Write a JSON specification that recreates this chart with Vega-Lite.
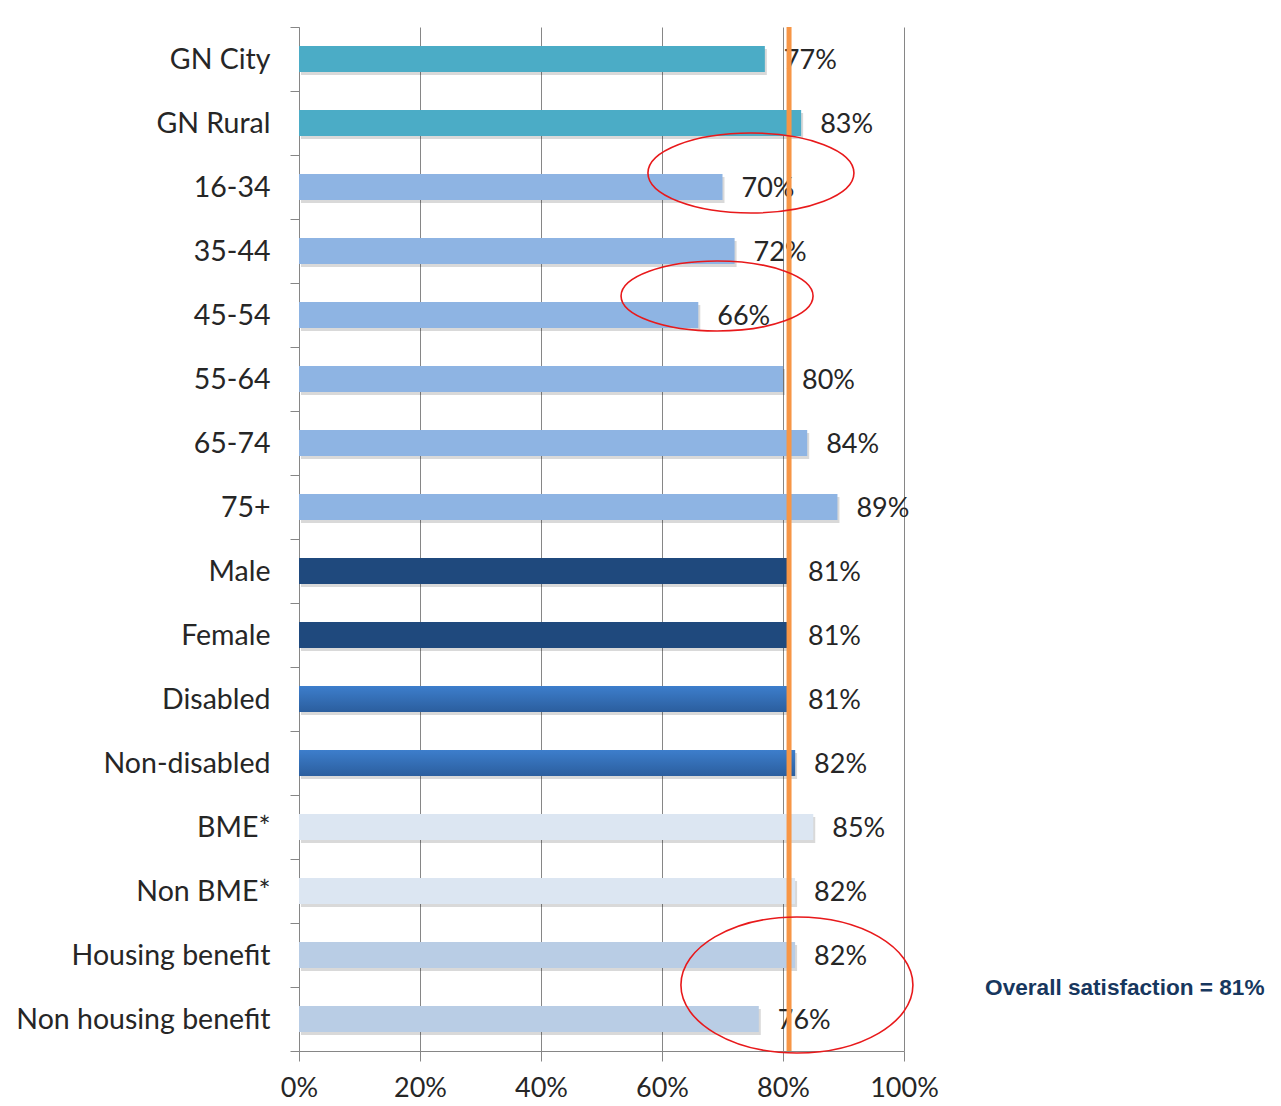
{
  "$schema": "https://vega.github.io/schema/vega-lite/v6.json",
  "width": 605,
  "height": 1024,
  "autosize": "none",
  "padding": {"left": 299, "top": 27, "right": 377, "bottom": 55},
  "background": "white",
  "config": {"view": {"stroke": null}, "font": "Lato"},
  "datasets": {
    "bars": [
      {"category": "GN City", "value": 0.77, "group": "area"},
      {"category": "GN Rural", "value": 0.83, "group": "area"},
      {"category": "16-34", "value": 0.70, "group": "age"},
      {"category": "35-44", "value": 0.72, "group": "age"},
      {"category": "45-54", "value": 0.66, "group": "age"},
      {"category": "55-64", "value": 0.80, "group": "age"},
      {"category": "65-74", "value": 0.84, "group": "age"},
      {"category": "75+", "value": 0.89, "group": "age"},
      {"category": "Male", "value": 0.81, "group": "gender"},
      {"category": "Female", "value": 0.81, "group": "gender"},
      {"category": "Disabled", "value": 0.81, "group": "disability"},
      {"category": "Non-disabled", "value": 0.82, "group": "disability"},
      {"category": "BME*", "value": 0.85, "group": "ethnicity"},
      {"category": "Non BME*", "value": 0.82, "group": "ethnicity"},
      {"category": "Housing benefit", "value": 0.82, "group": "benefit"},
      {"category": "Non housing benefit", "value": 0.76, "group": "benefit"}
    ]
  },
  "encoding": {
    "y": {
      "field": "category",
      "type": "nominal",
      "scale": {
        "domain": ["GN City", "GN Rural", "16-34", "35-44", "45-54", "55-64", "65-74", "75+", "Male", "Female", "Disabled", "Non-disabled", "BME*", "Non BME*", "Housing benefit", "Non housing benefit"],
        "paddingInner": 0,
        "paddingOuter": 0
      },
      "axis": {
        "title": null,
        "labelFontSize": 28.5,
        "labelColor": "#262626",
        "labelPadding": 20,
        "labelLimit": 0,
        "tickSize": 9,
        "tickBand": "extent",
        "tickColor": "#868686",
        "domainColor": "#868686",
        "grid": false
      }
    }
  },
  "layer": [
    {
      "data": {"name": "bars"},
      "mark": {"type": "bar", "color": "#000000", "opacity": 0.15, "yOffset": 3, "xOffset": 2, "size": 26},
      "encoding": {
        "x": {
          "field": "value",
          "type": "quantitative",
          "scale": {"domain": [0, 1], "nice": false},
          "axis": {
            "title": null,
            "values": [0, 0.2, 0.4, 0.6, 0.8, 1],
            "format": ".0%",
            "grid": true,
            "gridColor": "#868686",
            "tickSize": 10,
            "tickColor": "#868686",
            "domainColor": "#868686",
            "labelPadding": 14,
            "labelFlush": false,
            "labelFontSize": 27,
            "labelColor": "#262626"
          }
        }
      }
    },
    {
      "data": {"name": "bars"},
      "mark": {"type": "bar", "size": 26},
      "encoding": {
        "x": {"field": "value", "type": "quantitative"},
        "color": {
          "field": "group",
          "type": "nominal",
          "scale": {
            "domain": ["area", "age", "gender", "disability", "ethnicity", "benefit"],
            "range": ["#4BACC6", "#8EB4E3", "#1F497D", "#3470B8", "#DCE6F2", "#B9CDE5"]
          },
          "legend": null
        }
      }
    },
    {
      "data": {"name": "bars"},
      "transform": [{"filter": "datum.group === 'disability'"}],
      "mark": {
        "type": "bar",
        "size": 26,
        "color": {
          "gradient": "linear",
          "x1": 0, "y1": 0, "x2": 0, "y2": 1,
          "stops": [
            {"offset": 0, "color": "#3D7ECC"},
            {"offset": 1, "color": "#2B5E9E"}
          ]
        }
      },
      "encoding": {
        "x": {"field": "value", "type": "quantitative"}
      }
    },
    {
      "data": {"name": "bars"},
      "mark": {"type": "text", "align": "left", "baseline": "middle", "dx": 19, "dy": 2, "fontSize": 27, "color": "#262626"},
      "encoding": {
        "x": {"field": "value", "type": "quantitative"},
        "text": {"field": "value", "type": "quantitative", "format": ".0%"}
      }
    },
    {
      "data": {"values": [{"overall": 0.81}]},
      "mark": {"type": "rule", "color": "#F79646", "strokeWidth": 5},
      "encoding": {
        "x": {"field": "overall", "type": "quantitative"},
        "y": null
      }
    },
    {
      "data": {"values": [{"category": "16-34", "x": 0.747}]},
      "mark": {"type": "point", "filled": false, "stroke": "#E8191B", "strokeWidth": 1.6, "opacity": 1, "yOffset": -14, "size": 42436, "shape": "M-1,0A1,0.388,0,1,0,1,0A1,0.388,0,1,0,-1,0Z"},
      "encoding": {
        "x": {"field": "x", "type": "quantitative"}
      }
    },
    {
      "data": {"values": [{"category": "45-54", "x": 0.691}]},
      "mark": {"type": "point", "filled": false, "stroke": "#E8191B", "strokeWidth": 1.6, "opacity": 1, "yOffset": -19, "size": 36864, "shape": "M-1,0A1,0.365,0,1,0,1,0A1,0.365,0,1,0,-1,0Z"},
      "encoding": {
        "x": {"field": "x", "type": "quantitative"}
      }
    },
    {
      "data": {"values": [{"category": "Non housing benefit", "x": 0.823}]},
      "mark": {"type": "point", "filled": false, "stroke": "#E8191B", "strokeWidth": 1.6, "opacity": 1, "yOffset": -34, "size": 53824, "shape": "M-1,0A1,0.586,0,1,0,1,0A1,0.586,0,1,0,-1,0Z"},
      "encoding": {
        "x": {"field": "x", "type": "quantitative"}
      }
    },
    {
      "data": {"values": [{"category": "Non housing benefit", "x": 1.134, "note": "Overall satisfaction = 81%"}]},
      "mark": {"type": "text", "align": "left", "baseline": "middle", "yOffset": -31, "font": "Liberation Sans", "fontWeight": "bold", "fontSize": 22.6, "color": "#17375E"},
      "encoding": {
        "x": {"field": "x", "type": "quantitative"},
        "text": {"field": "note"}
      }
    }
  ]
}
